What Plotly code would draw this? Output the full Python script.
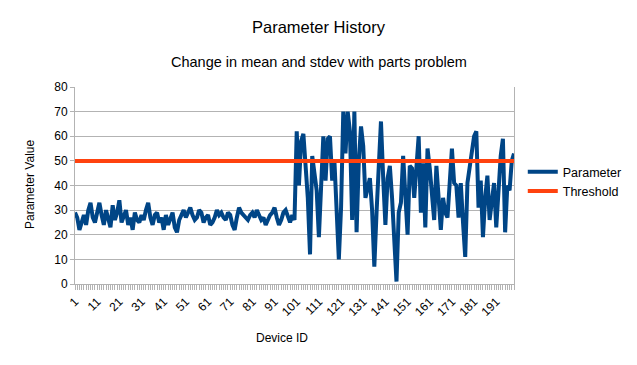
import plotly.graph_objects as go

device_ids = list(range(1, 200))

param_first = [
    29, 27, 22, 25, 28, 24, 30, 33, 27, 25,
    29, 33, 28, 24, 30, 27, 23, 32, 26, 29,
    34, 25, 28, 30, 24, 27, 22, 29, 26, 25,
    28, 26, 30, 33, 27, 24, 28, 29, 25, 27,
    22, 28, 24, 27, 29, 23, 21, 26, 28, 30,
    27, 29, 31, 28, 26, 27, 30, 29, 25, 27,
    28, 24, 25, 27, 30, 28, 29, 27, 26, 29,
    28, 24, 22, 27, 31, 29, 28, 27, 26, 28,
    29, 27, 30, 28, 26, 27, 24, 26, 28, 29,
    31, 27, 24, 26, 29, 30, 27, 25, 28, 26,
]
param_second = [
    62, 40, 58, 61, 48, 35, 12, 52, 45, 38,
    19, 45, 60, 42, 59, 60, 42, 50, 30, 10,
    31, 70, 53, 70, 62, 26, 70, 21, 50, 64,
    56, 35, 39, 43, 30, 7, 29, 45, 66, 43,
    24, 43, 48, 35, 15, 1, 29, 33, 52, 38,
    20, 48, 47, 35, 50, 60, 29, 49, 23, 55,
    47, 38, 26, 48, 35, 22, 35, 29, 27, 40,
    55, 41, 40, 27, 41, 25, 11, 41, 47, 55,
    60, 62, 31, 42, 19, 35, 44, 26, 35, 41,
    23, 40, 52, 59, 21, 40, 38, 50, 53,
]
parameter = param_first + param_second
threshold = [50] * len(device_ids)

tick_vals = list(range(1, 200, 10))
tick_text = [str(v) for v in tick_vals]

FONT = "Liberation Sans, Arial, sans-serif"

# page has an 8px body margin, so the figure is offset by 8px
W, H = 629, 357
ML, MR, MT, MB = 67, 123, 79, 81
plot_w = W - ML - MR
plot_h = H - MT - MB

fig = go.Figure()
fig.add_trace(go.Scatter(x=device_ids, y=parameter, mode="lines", name="Parameter",
                         line=dict(color="#004586", width=4)))
fig.add_trace(go.Scatter(x=device_ids, y=threshold, mode="lines", name="Threshold",
                         line=dict(color="#ff420e", width=4)))

def py(ypix):
    return (H - MB - (ypix - 8)) / plot_h

def px(xpix):
    return ((xpix - 8) - ML) / plot_w

fig.update_layout(
    width=W, height=H,
    margin=dict(l=ML, r=MR, t=MT, b=MB, autoexpand=False),
    paper_bgcolor="white", plot_bgcolor="white",
    font=dict(family=FONT, size=12, color="#000000"),
    showlegend=True,
    legend=dict(x=1.02, xanchor="left", y=0.52, yanchor="middle",
                font=dict(size=12.5), bgcolor="rgba(0,0,0,0)", tracegroupgap=2),
    annotations=[
        dict(text="Parameter History", x=px(318.5), y=py(27), xref="paper", yref="paper",
             showarrow=False, font=dict(size=16.5), yanchor="middle"),
        dict(text="Change in mean and stdev with parts problem", x=px(319), y=py(62),
             xref="paper", yref="paper", showarrow=False, font=dict(size=14.5),
             yanchor="middle"),
        dict(text="Device ID", x=px(282), y=py(338), xref="paper", yref="paper",
             showarrow=False, font=dict(size=12), yanchor="middle"),
        dict(text="Parameter Value", x=px(30), y=py(185), xref="paper", yref="paper",
             showarrow=False, font=dict(size=12), textangle=-90, xanchor="center",
             yanchor="middle"),
    ],
)

fig.update_xaxes(
    range=[1, 199], tickmode="array", tickvals=tick_vals, ticktext=tick_text,
    tickangle=-45, tickfont=dict(size=12), showgrid=False, zeroline=False,
    showline=True, linecolor="#b3b3b3", linewidth=1,
    ticks="outside", ticklen=5, tickcolor="#b3b3b3",
    minor=dict(ticks="outside", dtick=1, tick0=1, ticklen=5, tickcolor="#b3b3b3"),
    automargin=False,
)
fig.update_yaxes(
    range=[0, 80], dtick=10, tickfont=dict(size=12), showgrid=True,
    gridcolor="#b3b3b3", gridwidth=1, zeroline=False,
    showline=True, linecolor="#b3b3b3", linewidth=1, mirror=True,
    ticks="outside", ticklen=4, tickcolor="#b3b3b3",
    automargin=False,
)

fig.write_html("out.html")
